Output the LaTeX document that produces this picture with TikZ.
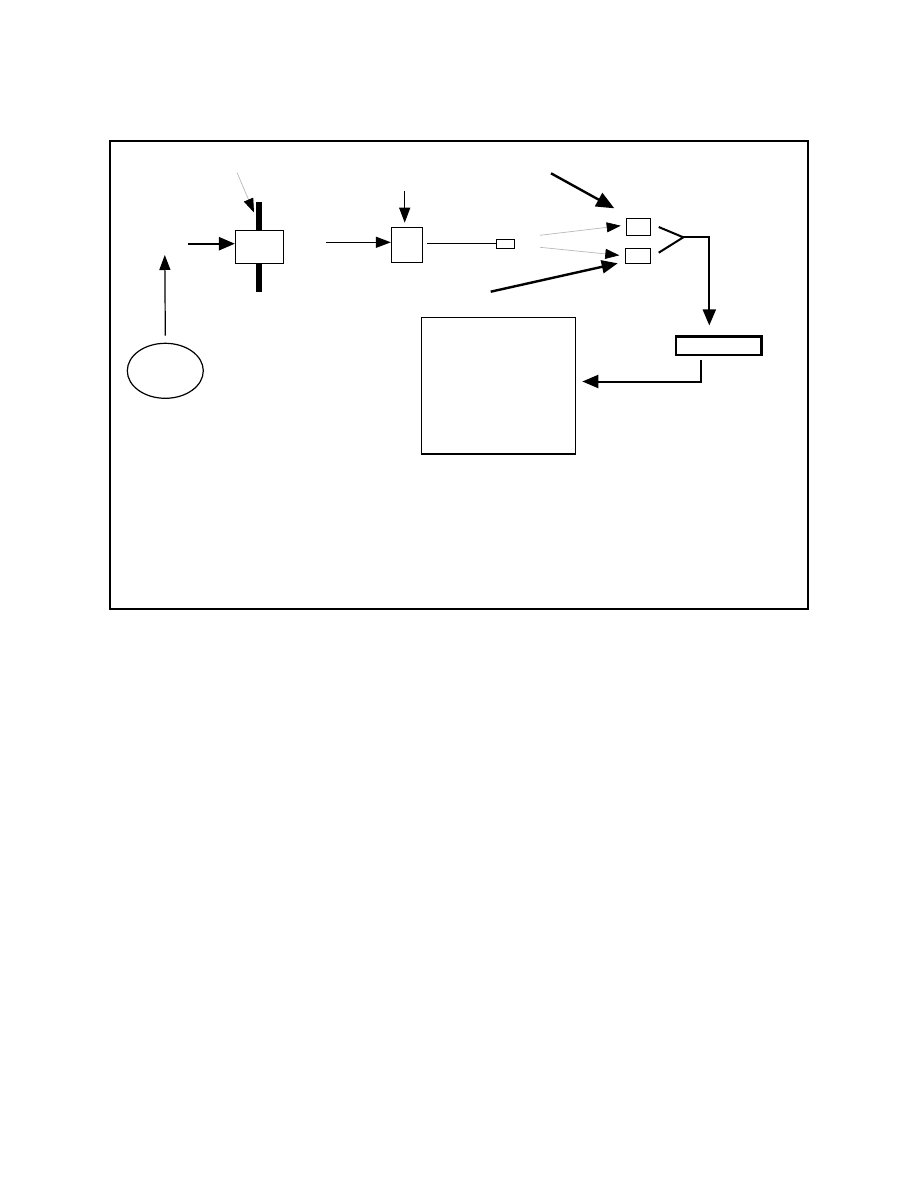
\documentclass[tikz,border=0pt]{standalone}
\usetikzlibrary{arrows.meta,shapes.geometric,positioning}
\definecolor{faint}{RGB}{185,185,185}

\begin{document}
\begin{tikzpicture}[x=1pt, y=-1pt,
  box/.style={draw, line width=1.2pt, fill=white, inner sep=0pt},
  plain line/.style={line width=1.2pt},
  thin arrow/.style={-{Triangle[length=15pt, width=11pt]}, line width=1.2pt},
  thick arrow/.style={-{Triangle[length=16pt, width=13pt]}, line width=2.4pt},
  faint arrow/.style={draw=faint, line width=0.7pt,
    -{Triangle[length=14pt, width=10pt, color=black]}}]

  \useasboundingbox (0,0) rectangle (918,1188);

  % -- outer frame --
  \draw[line width=1.8pt] (110,141) rectangle (808,609);

  % -- left part: source, valve with bar --
  \node[box, ellipse, minimum width=76pt, minimum height=55pt] (source) at (165.3,370.8) {};
  \draw[line width=6pt] (259.3,202) -- (259.3,292);
  \node[box, minimum width=48pt, minimum height=33pt] (valve) at (259.5,246.8) {};

  \coordinate (upTip) at (164.8,255);
  \draw[thin arrow] ([yshift=7pt]source.north) -- (upTip);

  \coordinate (feedStart) at (188,243.7);
  \draw[thick arrow] (feedStart) -- (feedStart -| valve.west);

  \coordinate (gasStart) at (237,172.5);
  \coordinate (gasTip) at (254,212.5);
  \draw[faint arrow] (gasStart) -- (gasTip);

  % -- unit box and plug --
  \node[box, minimum width=31pt, minimum height=35pt] (unit) at (407,244.8) {};
  \node[box, minimum width=18pt, minimum height=9pt] (plug) at (505.3,243.8) {};

  \coordinate (inStart) at (326,242.3);
  \draw[thin arrow] (inStart) -- (inStart -| unit.west);

  \coordinate (topStart) at (404.7,190.7);
  \draw[thin arrow, shorten >=4pt] (topStart) -- (topStart |- unit.north);

  \draw[plain line, shorten <=3.5pt] (unit.east |- plug.west) -- (plug.west);

  % -- relays --
  \node[box, minimum width=24pt, minimum height=17pt] (relayA) at (638.3,226.8) {};
  \node[box, minimum width=25pt, minimum height=15pt] (relayB) at (637.8,255.8) {};

  \coordinate (hiStart) at (551,173.3);
  \coordinate (hiTip) at (614.3,208.3);
  \draw[thick arrow, -{Triangle[length=18pt, width=15pt]}] (hiStart) -- (hiTip);

  \coordinate (grayA) at (540,235.3);
  \coordinate (grayATip) at (620.7,225.7);
  \draw[faint arrow] (grayA) -- (grayATip);

  \coordinate (grayB) at (540,247.3);
  \coordinate (grayBTip) at (619.3,255.3);
  \draw[faint arrow] (grayB) -- (grayBTip);

  \coordinate (loStart) at (490.7,291.7);
  \coordinate (loTip) at (617.7,263.3);
  \draw[thick arrow] (loStart) -- (loTip);

  % -- joint and output --
  \coordinate (joint) at (683.3,237.3);
  \draw[line width=2pt] (658.7,227) -- (joint) -- (658.7,252.7);

  \node[box, line width=2.4pt, minimum width=85.7pt, minimum height=18.3pt] (display) at (718.8,345.8) {};
  \node[box, minimum width=154.4pt, minimum height=136.7pt] (panel) at (498.5,385.7) {};

  \coordinate (bend) at (709.3,237.3);
  \draw[thick arrow, line width=2pt, shorten >=10pt] (joint) -- (bend) -- (bend |- display.north);

  \coordinate (outStart) at (701.3,359.5);
  \coordinate (outTurn) at (701.3,381.5);
  \draw[thick arrow, line width=2pt, shorten >=6pt] (outStart) -- (outTurn) -- (outTurn -| panel.east);

\end{tikzpicture}
\end{document}
